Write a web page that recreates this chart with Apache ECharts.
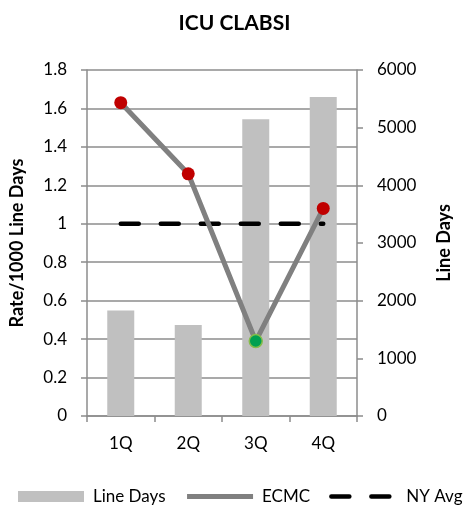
<!DOCTYPE html>
<html>
<head>
<meta charset="utf-8">
<script src="https://cdn.jsdelivr.net/npm/echarts@6/dist/echarts.min.js"></script>
<style>
  html, body { margin: 0; padding: 0; background: #fff; }
  #chart { width: 469px; height: 506px; }
</style>
</head>
<body>
<div id="chart"></div>
<script>
// Quarterly ICU CLABSI figures
const quarters = ['1Q', '2Q', '3Q', '4Q'];
const lineDays = [1830, 1580, 5145, 5530];
const ecmcRate = [1.63, 1.26, 0.39, 1.08];
const nyAvg = [1, 1, 1, 1];
const lowPointIndex = 2; // quarter drawn with a green marker

const FONT = 'Lato, "Liberation Sans", sans-serif';
const GRID_GRAY = '#8c8c8c';
const LABEL_SIZE = 17;

const chart = echarts.init(document.getElementById('chart'), null, { renderer: 'canvas' });

const ecmcData = ecmcRate.map((v, i) => i === lowPointIndex
  ? { value: v, itemStyle: { color: '#00A050', borderColor: '#86BC4B', borderWidth: 1.5 } }
  : v);

chart.setOption({
  animation: false,
  textStyle: { fontFamily: FONT },
  title: {
    text: 'ICU CLABSI',
    left: 'center',
    top: 8,
    textStyle: { fontFamily: FONT, fontSize: 21, fontWeight: 'bold', color: '#000' }
  },
  legend: {
    left: 18,
    bottom: 1,
    width: 451,
    padding: 0,
    itemWidth: 66,
    itemHeight: 11,
    itemGap: 19,
    textStyle: { fontFamily: FONT, fontSize: 17, color: '#000', padding: [0, 0, 0, 4] },
    data: [
      { name: 'Line Days', icon: 'rect' },
      { name: 'ECMC', itemStyle: { opacity: 0 }, lineStyle: { width: 5 } },
      { name: 'NY Avg', itemStyle: { opacity: 0 }, lineStyle: { width: 4.5 } }
    ]
  },
  grid: { left: 82, right: 112, top: 70, bottom: 90 },
  xAxis: {
    type: 'category',
    data: quarters,
    axisLine: { lineStyle: { color: GRID_GRAY, width: 1.5 } },
    axisTick: { show: true, length: 6, lineStyle: { color: GRID_GRAY, width: 1.5 } },
    axisLabel: { color: '#000', fontSize: LABEL_SIZE, fontFamily: FONT, margin: 19 }
  },
  yAxis: [
    {
      type: 'value',
      min: 0, max: 1.8, interval: 0.2,
      name: 'Rate/1000 Line Days',
      nameLocation: 'middle',
      nameGap: 61,
      nameTextStyle: { fontFamily: FONT, fontSize: 18, fontWeight: 'bold', color: '#000' },
      axisLine: { show: true, lineStyle: { color: GRID_GRAY, width: 1.5 } },
      axisTick: { show: true, length: 6, lineStyle: { color: GRID_GRAY, width: 1.5 } },
      axisLabel: {
        color: '#000', fontSize: LABEL_SIZE, fontFamily: FONT, margin: 20,
        formatter: v => String(Math.round(v * 10) / 10)
      },
      splitLine: { show: true, lineStyle: { color: GRID_GRAY, width: 1.5 } }
    },
    {
      type: 'value',
      min: 0, max: 6000, interval: 1000,
      name: 'Line Days',
      nameLocation: 'middle',
      nameGap: 78,
      nameRotate: 90,
      nameTextStyle: { fontFamily: FONT, fontSize: 18, fontWeight: 'bold', color: '#000' },
      axisLine: { show: true, lineStyle: { color: GRID_GRAY, width: 1.5 } },
      axisTick: { show: true, length: 6, lineStyle: { color: GRID_GRAY, width: 1.5 } },
      axisLabel: {
        color: '#000', fontSize: LABEL_SIZE, fontFamily: FONT, margin: 20,
        formatter: v => String(v)
      },
      splitLine: { show: false }
    }
  ],
  series: [
    {
      name: 'Line Days',
      type: 'bar',
      yAxisIndex: 1,
      data: lineDays,
      barWidth: 27,
      itemStyle: { color: '#C0C0C0' },
      z: 1
    },
    {
      name: 'NY Avg',
      type: 'line',
      yAxisIndex: 0,
      data: nyAvg,
      symbol: 'none',
      lineStyle: { color: '#000', width: 4.5, type: [18, 22], cap: 'round' },
      itemStyle: { color: '#000' },
      z: 3
    },
    {
      name: 'ECMC',
      type: 'line',
      yAxisIndex: 0,
      data: ecmcData,
      symbol: 'circle',
      symbolSize: 13,
      lineStyle: { color: '#808080', width: 5 },
      itemStyle: { color: '#C00000' },
      z: 4
    }
  ]
});
</script>
</body>
</html>
